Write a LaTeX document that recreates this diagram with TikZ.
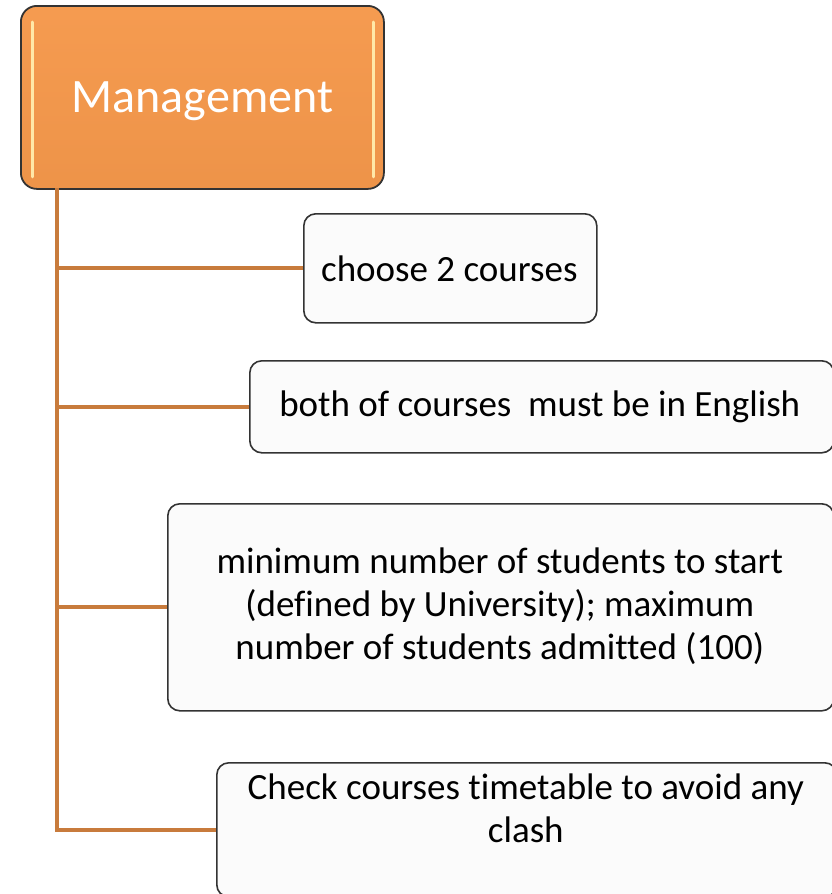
\documentclass[tikz,border=0pt]{standalone}
\usepackage{fontspec}
\setmainfont[Ligatures={NoCommon}]{Carlito}
\definecolor{orfill}{HTML}{F5984B}
\definecolor{conncol}{HTML}{C87B3C}
\definecolor{edgecol}{HTML}{333333}
\definecolor{hilite}{HTML}{FFE8A8}
\definecolor{boxfill}{HTML}{FBFBFB}
\begin{document}
\begin{tikzpicture}[x=1pt,y=-1pt,
  textbox/.style={draw=edgecol,line width=1.6pt,fill=boxfill,rounded corners=12pt,inner sep=0pt,anchor=north west},
  conn/.style={draw=conncol,line width=4pt},
  body/.style={font=\fontsize{37}{43}\selectfont,align=center,text=black}]
\useasboundingbox (0,0) rectangle (831,894);
% Management box
\node[draw=edgecol,line width=1.8pt,top color=orfill!97!white,bottom color=orfill!97!black,rounded corners=16pt,minimum width=363pt,minimum height=183pt,anchor=north west,inner sep=0pt] (mgmt) at (20,5) {};
\node[text=white,font=\fontsize{48}{56}\selectfont] (mt) at ([yshift=-4pt]mgmt.center) {Management};
\draw[hilite,line width=3pt,line cap=round] ([xshift=12pt,yshift=-17pt]mgmt.north west) -- ([xshift=12pt,yshift=13pt]mgmt.south west);
\draw[hilite,line width=3pt,line cap=round] ([xshift=-11pt,yshift=-17pt]mgmt.north east) -- ([xshift=-11pt,yshift=13pt]mgmt.south east);
% boxes
\node[textbox,minimum width=293pt,minimum height=109pt] (b1) at (303,213) {};
\node[body] (t1) at ([xshift=-1pt]b1.center) {choose 2 courses};
\node[textbox,minimum width=584pt,minimum height=92pt] (b2) at (249,360) {};
\node[body] (t2) at ([xshift=-2pt]b2.center) {both of courses\ \ must be in English};
\node[textbox,minimum width=666pt,minimum height=207pt] (b3) at (167,503) {};
\node[body] (t3) at ([xshift=-1pt,yshift=1pt]b3.center) {minimum number of students to start\\(defined by University); maximum\\number of students admitted (100)};
\node[textbox,minimum width=620pt,minimum height=134pt] (b4) at (216,762) {};
\node[body,anchor=north] (t4) at ([xshift=-1pt,yshift=-8pt]b4.north) {Check courses timetable to avoid any\\clash};
% connectors
\coordinate (top) at (57,188);
\draw[conn] (top) |- (b4.west);
\draw[conn] (top |- b1.west) -- (b1.west);
\draw[conn] (top |- b2.west) -- (b2.west);
\draw[conn] (top |- b3.west) -- (b3.west);
\end{tikzpicture}
\end{document}
